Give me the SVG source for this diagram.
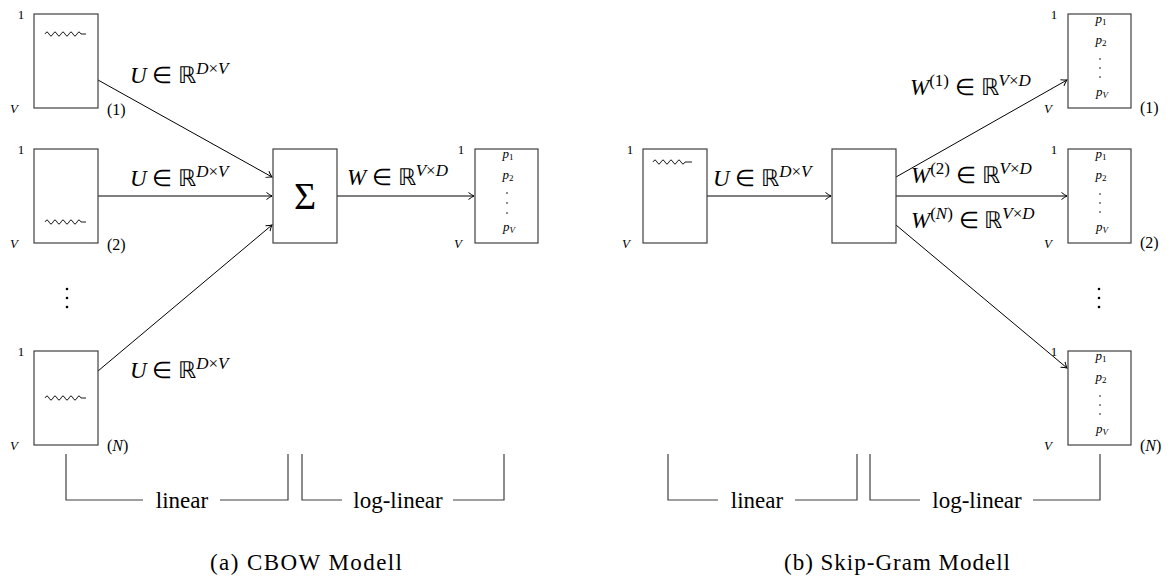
<svg xmlns="http://www.w3.org/2000/svg" width="1176" height="581" viewBox="0 0 1176 581">
<style>
.box{fill:#fff;stroke:#404040;stroke-width:1.2}
.sq{fill:none;stroke:#000;stroke-width:0.9}
.br{fill:none;stroke:#404040;stroke-width:1.2}
text,tspan{font-family:"Liberation Serif",serif !important}
</style>
<rect width="1176" height="581" fill="#fff"/>
<defs>
<marker id="ah" viewBox="-6 -5 7 10" markerWidth="7" markerHeight="10" refX="0" refY="0" orient="auto" markerUnits="userSpaceOnUse">
<path d="M-5.5,-3.5 Q-2,-0.8 0,0 Q-2,0.8 -5.5,3.5" fill="none" stroke="#000" stroke-width="1"/>
</marker>
</defs>

<g id="connectors" fill="none" stroke="#000" stroke-width="1" marker-end="url(#ah)">
<line x1="98" y1="80" x2="272" y2="177"/>
<line x1="98" y1="196" x2="272" y2="196"/>
<line x1="98" y1="371" x2="272" y2="225"/>
<line x1="337" y1="196" x2="474" y2="196"/>
<line x1="707" y1="196" x2="831" y2="196"/>
<line x1="896" y1="177" x2="1067" y2="80"/>
<line x1="896" y1="196" x2="1067" y2="196"/>
<line x1="896" y1="225" x2="1067" y2="368"/>
</g>

<g id="edge-labels">
<text x="130" y="83" font-family="Liberation Serif" font-size="23" style="font-family:'Liberation Serif',serif !important"><tspan font-style="italic">U</tspan> ∈ ℝ<tspan font-size="17" dy="-9"><tspan font-style="italic">D</tspan>×<tspan font-style="italic">V</tspan></tspan></text>
<text x="130" y="186" font-family="Liberation Serif" font-size="23" style="font-family:'Liberation Serif',serif !important"><tspan font-style="italic">U</tspan> ∈ ℝ<tspan font-size="17" dy="-9"><tspan font-style="italic">D</tspan>×<tspan font-style="italic">V</tspan></tspan></text>
<text x="130" y="378" font-family="Liberation Serif" font-size="23" style="font-family:'Liberation Serif',serif !important"><tspan font-style="italic">U</tspan> ∈ ℝ<tspan font-size="17" dy="-9"><tspan font-style="italic">D</tspan>×<tspan font-style="italic">V</tspan></tspan></text>
<text x="347" y="185" font-family="Liberation Serif" font-size="23" style="font-family:'Liberation Serif',serif !important"><tspan font-style="italic">W</tspan> ∈ ℝ<tspan font-size="17" dy="-9"><tspan font-style="italic">V</tspan>×<tspan font-style="italic">D</tspan></tspan></text>
<text x="713" y="186" font-family="Liberation Serif" font-size="23" style="font-family:'Liberation Serif',serif !important"><tspan font-style="italic">U</tspan> ∈ ℝ<tspan font-size="17" dy="-9"><tspan font-style="italic">D</tspan>×<tspan font-style="italic">V</tspan></tspan></text>
<text x="910" y="95" font-family="Liberation Serif" font-size="23" style="font-family:'Liberation Serif',serif !important"><tspan font-style="italic">W</tspan><tspan font-size="17" dy="-9">(1)</tspan><tspan dy="9"> ∈ ℝ</tspan><tspan font-size="17" dy="-9"><tspan font-style="italic">V</tspan>×<tspan font-style="italic">D</tspan></tspan></text>
<text x="911" y="183" font-family="Liberation Serif" font-size="23" style="font-family:'Liberation Serif',serif !important"><tspan font-style="italic">W</tspan><tspan font-size="17" dy="-9">(2)</tspan><tspan dy="9"> ∈ ℝ</tspan><tspan font-size="17" dy="-9"><tspan font-style="italic">V</tspan>×<tspan font-style="italic">D</tspan></tspan></text>
<text x="911" y="228" font-family="Liberation Serif" font-size="23" style="font-family:'Liberation Serif',serif !important"><tspan font-style="italic">W</tspan><tspan font-size="17" dy="-9">(<tspan font-style="italic">N</tspan>)</tspan><tspan dy="9"> ∈ ℝ</tspan><tspan font-size="17" dy="-9"><tspan font-style="italic">V</tspan>×<tspan font-style="italic">D</tspan></tspan></text>
</g>

<g id="cbow-in1">
<rect class="box" x="34" y="14" width="64" height="94"/>
<path class="sq" d="M45,34 q2,-4 4,0 t4,0 t4,0 t4,0 t4,0 t4,0 t4,0 t4,0 t4,0 l5,0"/>
<text x="21" y="19" text-anchor="middle" font-family="Liberation Serif" font-size="13" style="font-family:'Liberation Serif',serif !important">1</text>
<text x="14" y="113" text-anchor="middle" font-family="Liberation Serif" font-size="13" font-style="italic" style="font-family:'Liberation Serif',serif !important">V</text>
<text x="107" y="115" font-family="Liberation Serif" font-size="16" style="font-family:'Liberation Serif',serif !important">(1)</text>
</g>
<g id="cbow-in2">
<rect class="box" x="34" y="149" width="64" height="94"/>
<path class="sq" d="M45,222 q2,-4 4,0 t4,0 t4,0 t4,0 t4,0 t4,0 t4,0 t4,0 t4,0 l5,0"/>
<text x="21" y="154" text-anchor="middle" font-family="Liberation Serif" font-size="13" style="font-family:'Liberation Serif',serif !important">1</text>
<text x="14" y="248" text-anchor="middle" font-family="Liberation Serif" font-size="13" font-style="italic" style="font-family:'Liberation Serif',serif !important">V</text>
<text x="107" y="250" font-family="Liberation Serif" font-size="16" style="font-family:'Liberation Serif',serif !important">(2)</text>
</g>
<g id="cbow-dots" fill="#000">
<circle cx="67" cy="289" r="1.3"/>
<circle cx="67" cy="298" r="1.3"/>
<circle cx="67" cy="307" r="1.3"/>
</g>
<g id="cbow-inN">
<rect class="box" x="34" y="351" width="64" height="94"/>
<path class="sq" d="M45,398 q2,-4 4,0 t4,0 t4,0 t4,0 t4,0 t4,0 t4,0 t4,0 t4,0 l5,0"/>
<text x="21" y="356" text-anchor="middle" font-family="Liberation Serif" font-size="13" style="font-family:'Liberation Serif',serif !important">1</text>
<text x="14" y="450" text-anchor="middle" font-family="Liberation Serif" font-size="13" font-style="italic" style="font-family:'Liberation Serif',serif !important">V</text>
<text x="107" y="451" font-family="Liberation Serif" font-size="16" style="font-family:'Liberation Serif',serif !important">(<tspan font-style="italic">N</tspan>)</text>
</g>

<g id="cbow-sum">
<rect class="box" x="273" y="149" width="64" height="94"/>
<text x="305" y="209" text-anchor="middle" font-family="Liberation Serif" font-size="38" style="font-family:'Liberation Serif',serif !important">Σ</text>
</g>

<g id="cbow-out">
<rect class="box" x="475" y="149" width="63" height="94"/>
<text x="461" y="154" text-anchor="middle" font-family="Liberation Serif" font-size="13" style="font-family:'Liberation Serif',serif !important">1</text>
<text x="458" y="248" text-anchor="middle" font-family="Liberation Serif" font-size="13" font-style="italic" style="font-family:'Liberation Serif',serif !important">V</text>
<text x="508" y="158" text-anchor="middle" font-family="Liberation Serif" font-size="13" font-style="italic" style="font-family:'Liberation Serif',serif !important">p<tspan font-size="9" font-style="normal" dy="2">1</tspan></text>
<text x="508" y="179" text-anchor="middle" font-family="Liberation Serif" font-size="13" font-style="italic" style="font-family:'Liberation Serif',serif !important">p<tspan font-size="9" font-style="normal" dy="2">2</tspan></text>
<circle cx="507" cy="193" r="0.8"/>
<circle cx="507" cy="203" r="0.8"/>
<circle cx="507" cy="213" r="0.8"/>
<text x="509" y="231" text-anchor="middle" font-family="Liberation Serif" font-size="13" font-style="italic" style="font-family:'Liberation Serif',serif !important">p<tspan font-size="9" dy="2">V</tspan></text>
</g>

<g id="sg-in">
<rect class="box" x="643" y="149" width="64" height="94"/>
<path class="sq" d="M653,162 q2,-4 4,0 t4,0 t4,0 t4,0 t4,0 t4,0 t4,0 t4,0 l7,0"/>
<text x="630" y="154" text-anchor="middle" font-family="Liberation Serif" font-size="13" style="font-family:'Liberation Serif',serif !important">1</text>
<text x="626" y="248" text-anchor="middle" font-family="Liberation Serif" font-size="13" font-style="italic" style="font-family:'Liberation Serif',serif !important">V</text>
</g>
<g id="sg-hidden">
<rect class="box" x="832" y="149" width="64" height="94"/>
</g>
<g id="sg-out1">
<rect class="box" x="1068" y="14" width="63" height="94"/>
<text x="1054" y="19" text-anchor="middle" font-family="Liberation Serif" font-size="13" style="font-family:'Liberation Serif',serif !important">1</text>
<text x="1048" y="113" text-anchor="middle" font-family="Liberation Serif" font-size="13" font-style="italic" style="font-family:'Liberation Serif',serif !important">V</text>
<text x="1140" y="113" font-family="Liberation Serif" font-size="16" style="font-family:'Liberation Serif',serif !important">(1)</text>
<text x="1101" y="23" text-anchor="middle" font-family="Liberation Serif" font-size="13" font-style="italic" style="font-family:'Liberation Serif',serif !important">p<tspan font-size="9" font-style="normal" dy="2">1</tspan></text>
<text x="1101" y="44" text-anchor="middle" font-family="Liberation Serif" font-size="13" font-style="italic" style="font-family:'Liberation Serif',serif !important">p<tspan font-size="9" font-style="normal" dy="2">2</tspan></text>
<circle cx="1100" cy="59" r="0.8"/>
<circle cx="1100" cy="68" r="0.8"/>
<circle cx="1100" cy="77" r="0.8"/>
<text x="1102" y="96" text-anchor="middle" font-family="Liberation Serif" font-size="13" font-style="italic" style="font-family:'Liberation Serif',serif !important">p<tspan font-size="9" dy="2">V</tspan></text>
</g>
<g id="sg-out2">
<rect class="box" x="1068" y="149" width="63" height="94"/>
<text x="1054" y="154" text-anchor="middle" font-family="Liberation Serif" font-size="13" style="font-family:'Liberation Serif',serif !important">1</text>
<text x="1048" y="248" text-anchor="middle" font-family="Liberation Serif" font-size="13" font-style="italic" style="font-family:'Liberation Serif',serif !important">V</text>
<text x="1140" y="248" font-family="Liberation Serif" font-size="16" style="font-family:'Liberation Serif',serif !important">(2)</text>
<text x="1101" y="158" text-anchor="middle" font-family="Liberation Serif" font-size="13" font-style="italic" style="font-family:'Liberation Serif',serif !important">p<tspan font-size="9" font-style="normal" dy="2">1</tspan></text>
<text x="1101" y="179" text-anchor="middle" font-family="Liberation Serif" font-size="13" font-style="italic" style="font-family:'Liberation Serif',serif !important">p<tspan font-size="9" font-style="normal" dy="2">2</tspan></text>
<circle cx="1100" cy="194" r="0.8"/>
<circle cx="1100" cy="203" r="0.8"/>
<circle cx="1100" cy="212" r="0.8"/>
<text x="1102" y="231" text-anchor="middle" font-family="Liberation Serif" font-size="13" font-style="italic" style="font-family:'Liberation Serif',serif !important">p<tspan font-size="9" dy="2">V</tspan></text>
</g>
<g id="sg-dots" fill="#000">
<circle cx="1099" cy="289" r="1.3"/>
<circle cx="1099" cy="298" r="1.3"/>
<circle cx="1099" cy="307" r="1.3"/>
</g>
<g id="sg-outN">
<rect class="box" x="1068" y="351" width="63" height="94"/>
<text x="1054" y="356" text-anchor="middle" font-family="Liberation Serif" font-size="13" style="font-family:'Liberation Serif',serif !important">1</text>
<text x="1048" y="450" text-anchor="middle" font-family="Liberation Serif" font-size="13" font-style="italic" style="font-family:'Liberation Serif',serif !important">V</text>
<text x="1140" y="451" font-family="Liberation Serif" font-size="16" style="font-family:'Liberation Serif',serif !important">(<tspan font-style="italic">N</tspan>)</text>
<text x="1101" y="360" text-anchor="middle" font-family="Liberation Serif" font-size="13" font-style="italic" style="font-family:'Liberation Serif',serif !important">p<tspan font-size="9" font-style="normal" dy="2">1</tspan></text>
<text x="1101" y="381" text-anchor="middle" font-family="Liberation Serif" font-size="13" font-style="italic" style="font-family:'Liberation Serif',serif !important">p<tspan font-size="9" font-style="normal" dy="2">2</tspan></text>
<circle cx="1100" cy="396" r="0.8"/>
<circle cx="1100" cy="405" r="0.8"/>
<circle cx="1100" cy="414" r="0.8"/>
<text x="1102" y="433" text-anchor="middle" font-family="Liberation Serif" font-size="13" font-style="italic" style="font-family:'Liberation Serif',serif !important">p<tspan font-size="9" dy="2">V</tspan></text>
</g>

<g id="brackets">
<path class="br" d="M66,454 V500 H143 M220,500 H288 V454 M302,454 V500 H342 M453,500 H504 V454 M668,454 V500 H718 M795,500 H857 V454 M870,454 V500 H920 M1033,500 H1100 V454"/>
<text x="182" y="508" text-anchor="middle" font-family="Liberation Serif" font-size="23" style="font-family:'Liberation Serif',serif !important">linear</text>
<text x="398" y="508" text-anchor="middle" font-family="Liberation Serif" font-size="23" style="font-family:'Liberation Serif',serif !important">log-linear</text>
<text x="757" y="508" text-anchor="middle" font-family="Liberation Serif" font-size="23" style="font-family:'Liberation Serif',serif !important">linear</text>
<text x="977" y="508" text-anchor="middle" font-family="Liberation Serif" font-size="23" style="font-family:'Liberation Serif',serif !important">log-linear</text>
</g>

<g id="captions">
<text x="306" y="570" text-anchor="middle" textLength="192" font-family="Liberation Serif" font-size="23" style="font-family:'Liberation Serif',serif !important">(a) CBOW Modell</text>
<text x="897" y="570" text-anchor="middle" textLength="226" font-family="Liberation Serif" font-size="23" style="font-family:'Liberation Serif',serif !important">(b) Skip-Gram Modell</text>
</g>
</svg>
